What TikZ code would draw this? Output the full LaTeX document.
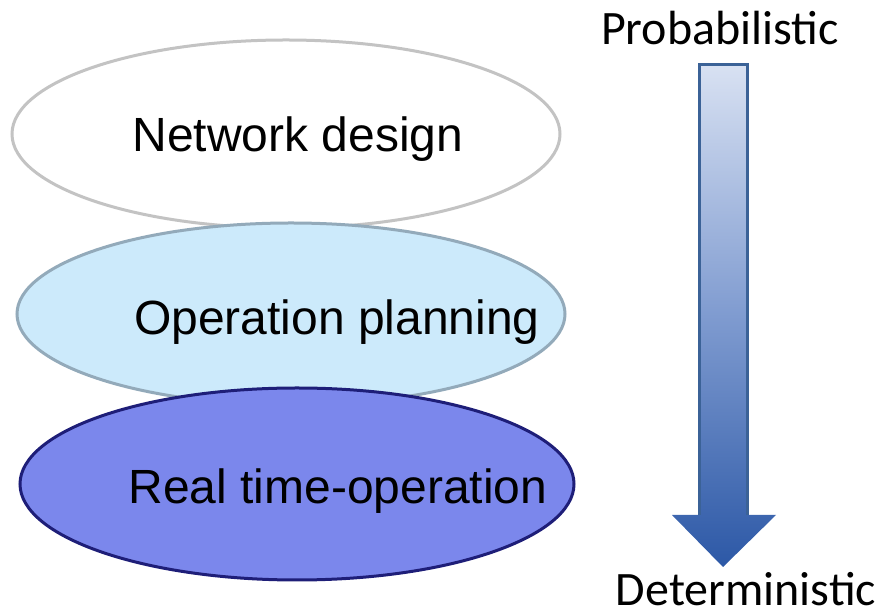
\documentclass[tikz,border=0pt]{standalone}
\usepackage{fontspec}
\setmainfont{Liberation Sans}
\newfontfamily\calib{Carlito}
\usetikzlibrary{shapes.geometric}
\definecolor{ringA}{HTML}{C3C3C3}
\definecolor{ringB}{HTML}{93AABA}
\definecolor{fillB}{HTML}{CCEAFB}
\definecolor{ringC}{HTML}{1E1E78}
\definecolor{fillC}{HTML}{7B87EC}
\definecolor{arrTop}{HTML}{D8E1F2}
\definecolor{arrMid}{HTML}{7F9BD0}
\definecolor{arrBot}{HTML}{2C58A6}
\definecolor{arrLine}{HTML}{3B6297}
\tikzset{
  layer/.style={ellipse, line width=3pt, inner sep=0pt},
  lbl/.style={font=\fontsize{48}{56}\selectfont, inner sep=0pt, anchor=center},
  side/.style={font=\calib\fontsize{48}{56}\selectfont, inner sep=0pt, anchor=base}
}
\begin{document}
\begin{tikzpicture}[x=1pt,y=1pt]
\useasboundingbox (0,0) rectangle (879,613);
% ellipses (y = 613 - pixel y)
\node[layer, draw=ringA, fill=white, minimum width=548, minimum height=188] (nd) at (286,479) {};
\node[layer, draw=ringB, fill=fillB, minimum width=548, minimum height=182] (op) at (291,299) {};
\node[layer, draw=ringC, fill=fillC, minimum width=554, minimum height=192] (rt) at (297,129) {};
\node[lbl] (tnd) at (298,474) {Network design};
\node[lbl] (top) at (337,291) {Operation planning};
\node[lbl] (trt) at (338,122) {Real time-operation};
% arrow
\shade[top color=arrTop, bottom color=arrBot, middle color=arrMid]
  (699,548) -- (747,548) -- (747,98) -- (776,98) -- (723,46) -- (672,98) -- (699,98) -- cycle;
\draw[arrLine, line width=3pt, line join=miter] (699,98) -- (699,548) -- (747,548) -- (747,98);
\node[side] (prob) at (720,568) {Probabilistic};
\node[side] (det) at (746,7) {Deterministic};
\end{tikzpicture}
\end{document}
